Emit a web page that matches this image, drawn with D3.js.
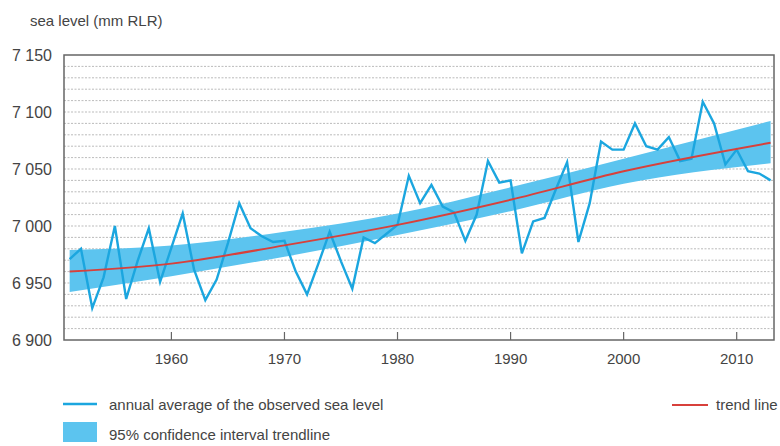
<!DOCTYPE html>
<html>
<head>
<meta charset="utf-8">
<script src="https://cdn.jsdelivr.net/npm/d3@7"></script>
<style>
  body { margin: 0; background: #fff; }
  text { font-family: "Liberation Sans", Arial, sans-serif; fill: #444; }
</style>
</head>
<body>
<script>

// observed annual average sea level
var years = d3.range(1951, 2014);
var seaLevel = [
  6971, 6980, 6928, 6955, 7000, 6936, 6969, 6998, 6951, 6981,
  7011, 6962, 6935, 6953, 6985, 7020, 6998, 6991, 6986, 6987,
  6960, 6940, 6967, 6995, 6969, 6945, 6990, 6985, 6993, 7001,
  7044, 7020, 7036, 7017, 7012, 6987, 7010, 7057, 7038, 7040,
  6976, 7004, 7007, 7032, 7056, 6986, 7020, 7074, 7067, 7067,
  7090, 7070, 7067, 7078, 7057, 7059, 7109, 7090, 7054, 7067,
  7048, 7046, 7040
];

// trend line and its 95% confidence band
var trendYears = [1951, 1960, 1970, 1980, 1990, 2000, 2013];
var trend      = [6960, 6967, 6983, 7001, 7023, 7048, 7073];
var bandLow    = [6942, 6956, 6973, 6992, 7013, 7037, 7055];
var bandHigh   = [6979, 6983, 6995, 7011, 7034, 7059, 7092];

var yTicks = [6900, 6950, 7000, 7050, 7100, 7150];
var xTicks = [1960, 1970, 1980, 1990, 2000, 2010];
var gridLines = d3.range(6910, 7150, 10);

var plotLeft = 64, plotRight = 774, plotTop = 55, plotBottom = 340;

var svg = d3.select("body")
            .append("svg")
            .attr("width", 780)
            .attr("height", 446);

var x = d3.scaleLinear().domain([1950.5, 2013.3]).range([plotLeft, plotRight]);
var y = d3.scaleLinear().domain([6900, 7150]).range([plotBottom, plotTop]);

// dotted gridlines
svg.selectAll("line.grid")
   .data(gridLines)
   .enter()
   .append("line")
   .attr("class", "grid")
   .attr("x1", plotLeft)
   .attr("x2", plotRight)
   .attr("y1", function(d) {return y(d)})
   .attr("y2", function(d) {return y(d)})
   .style("stroke", "#aaa")
   .style("stroke-width", 0.8)
   .style("stroke-dasharray", "2,1.5");

var band = trendYears.map(function(d, i) {return [d, bandLow[i], bandHigh[i]]});

// confidence band
svg.append("path")
   .datum(band)
   .attr("d", d3.area()
                .x(function(d) {return x(d[0])})
                .y0(function(d) {return y(d[1])})
                .y1(function(d) {return y(d[2])})
                .curve(d3.curveMonotoneX))
   .style("fill", "#5cc4ef");

// observed line
svg.append("path")
   .datum(years.map(function(d, i) {return [d, seaLevel[i]]}))
   .attr("d", d3.line()
                .x(function(d) {return x(d[0])})
                .y(function(d) {return y(d[1])}))
   .style("fill", "none")
   .style("stroke", "#1ba6df")
   .style("stroke-width", 2.4)
   .style("stroke-linejoin", "miter");

// trend line
svg.append("path")
   .datum(trendYears.map(function(d, i) {return [d, trend[i]]}))
   .attr("d", d3.line()
                .x(function(d) {return x(d[0])})
                .y(function(d) {return y(d[1])})
                .curve(d3.curveMonotoneX))
   .style("fill", "none")
   .style("stroke", "#d8403b")
   .style("stroke-width", 2);

// frame
svg.append("rect")
   .attr("x", plotLeft)
   .attr("y", plotTop)
   .attr("width", plotRight - plotLeft)
   .attr("height", plotBottom - plotTop)
   .style("fill", "none")
   .style("stroke", "#666")
   .style("stroke-width", 1.5);

// x ticks, pointing inward
svg.selectAll("line.tick")
   .data(xTicks)
   .enter()
   .append("line")
   .attr("class", "tick")
   .attr("x1", function(d) {return x(d)})
   .attr("x2", function(d) {return x(d)})
   .attr("y1", plotBottom)
   .attr("y2", plotBottom - 8)
   .style("stroke", "#666")
   .style("stroke-width", 1.2);

svg.selectAll("text.xlab")
   .data(xTicks)
   .enter()
   .append("text")
   .attr("class", "xlab")
   .attr("x", function(d) {return x(d)})
   .attr("y", 364)
   .attr("text-anchor", "middle")
   .style("font-size", "15px")
   .text(function(d) {return d});

svg.selectAll("text.ylab")
   .data(yTicks)
   .enter()
   .append("text")
   .attr("class", "ylab")
   .attr("x", 52)
   .attr("y", function(d) {return y(d) + 6})
   .attr("text-anchor", "end")
   .style("font-size", "16px")
   .text(function(d) {return d3.format(",")(d).replace(",", " ")});

svg.append("text")
   .attr("x", 30)
   .attr("y", 26)
   .style("font-size", "15px")
   .text("sea level (mm RLR)");

// legend
svg.append("line")
   .attr("x1", 63).attr("x2", 97)
   .attr("y1", 404).attr("y2", 404)
   .style("stroke", "#1ba6df")
   .style("stroke-width", 2.4);

svg.append("text")
   .attr("x", 109)
   .attr("y", 410)
   .style("font-size", "15px")
   .text("annual average of the observed sea level");

svg.append("rect")
   .attr("x", 63).attr("y", 422)
   .attr("width", 34).attr("height", 20)
   .style("fill", "#5cc4ef");

svg.append("text")
   .attr("x", 109)
   .attr("y", 440)
   .style("font-size", "15px")
   .text("95% confidence interval trendline");

svg.append("line")
   .attr("x1", 672).attr("x2", 708)
   .attr("y1", 405).attr("y2", 405)
   .style("stroke", "#d8403b")
   .style("stroke-width", 2);

svg.append("text")
   .attr("x", 716)
   .attr("y", 410)
   .style("font-size", "15px")
   .text("trend line");

</script>
</body>
</html>
